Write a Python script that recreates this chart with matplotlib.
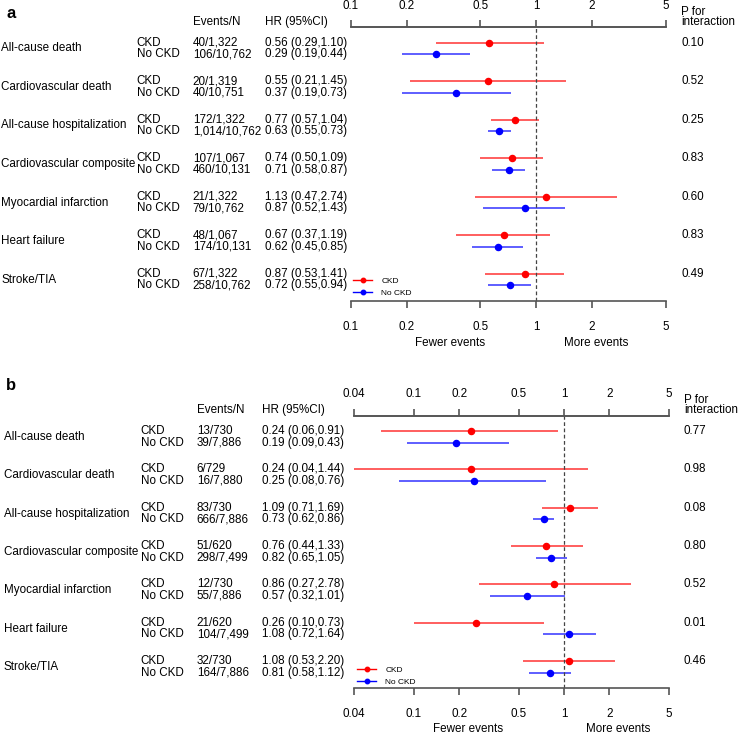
import matplotlib
matplotlib.use("Agg")
import matplotlib.pyplot as plt
import matplotlib.transforms as mtransforms
from matplotlib.lines import Line2D

plt.rcParams['font.family'] = ['Liberation Sans', 'DejaVu Sans']

categories = ["All-cause death", "Cardiovascular death", "All-cause hospitalization",
              "Cardiovascular composite", "Myocardial infarction", "Heart failure", "Stroke/TIA"]

# panel a
a_ev_ckd = ["40/1,322", "20/1,319", "172/1,322", "107/1,067", "21/1,322", "48/1,067", "67/1,322"]
a_ev_no = ["106/10,762", "40/10,751", "1,014/10,762", "460/10,131", "79/10,762", "174/10,131", "258/10,762"]
a_hr_ckd = [0.56, 0.55, 0.77, 0.74, 1.13, 0.67, 0.87]
a_lo_ckd = [0.29, 0.21, 0.57, 0.50, 0.47, 0.37, 0.53]
a_hi_ckd = [1.10, 1.45, 1.04, 1.09, 2.74, 1.19, 1.41]
a_hr_no = [0.29, 0.37, 0.63, 0.71, 0.87, 0.62, 0.72]
a_lo_no = [0.19, 0.19, 0.55, 0.58, 0.52, 0.45, 0.55]
a_hi_no = [0.44, 0.73, 0.73, 0.87, 1.43, 0.85, 0.94]
a_p = ["0.10", "0.52", "0.25", "0.83", "0.60", "0.83", "0.49"]
a_ticks = [0.1, 0.2, 0.5, 1, 2, 5]
a_ticklabels = ["0.1", "0.2", "0.5", "1", "2", "5"]

# panel b
b_ev_ckd = ["13/730", "6/729", "83/730", "51/620", "12/730", "21/620", "32/730"]
b_ev_no = ["39/7,886", "16/7,880", "666/7,886", "298/7,499", "55/7,886", "104/7,499", "164/7,886"]
b_hr_ckd = [0.24, 0.24, 1.09, 0.76, 0.86, 0.26, 1.08]
b_lo_ckd = [0.06, 0.04, 0.71, 0.44, 0.27, 0.10, 0.53]
b_hi_ckd = [0.91, 1.44, 1.69, 1.33, 2.78, 0.73, 2.20]
b_hr_no = [0.19, 0.25, 0.73, 0.82, 0.57, 1.08, 0.81]
b_lo_no = [0.09, 0.08, 0.62, 0.65, 0.32, 0.72, 0.58]
b_hi_no = [0.43, 0.76, 0.86, 1.05, 1.01, 1.64, 1.12]
b_p = ["0.77", "0.98", "0.08", "0.80", "0.52", "0.01", "0.46"]
b_ticks = [0.04, 0.1, 0.2, 0.5, 1, 2, 5]
b_ticklabels = ["0.04", "0.1", "0.2", "0.5", "1", "2", "5"]

W = 738.0
GAP = 3.35
AXCOL = '#555555'
FS = 8.4


def fx(px):
    return px / W


def fy(px):
    return 1 - px / W


fig = plt.figure(figsize=(7.38, 7.38), dpi=100)


def forest(rect, xlim, ticks, ticklabels, hr_c, lo_c, hi_c, hr_n, lo_n, hi_n,
           ev_c, ev_n, pvals, cols, hdr_y, letter, letter_y, fewer_x, more_x, leg_xy):
    ax = fig.add_axes(rect)
    n = len(categories)
    y_c = [i * GAP for i in range(n)]
    y_n = [i * GAP + 1 for i in range(n)]

    for y, hr, lo, hi in zip(y_c, hr_c, lo_c, hi_c):
        ax.plot([lo, hi], [y, y], color='red', lw=1.1, alpha=0.8, solid_capstyle='butt')
    for y, hr, lo, hi in zip(y_n, hr_n, lo_n, hi_n):
        ax.plot([lo, hi], [y, y], color='blue', lw=1.1, alpha=0.8, solid_capstyle='butt')
    ax.plot(hr_c, y_c, 'o', color='red', ms=4.4, ls='none')
    ax.plot(hr_n, y_n, 'o', color='blue', ms=4.4, ls='none')
    ax.axvline(1, color='#444444', lw=0.9, ls=(0, (3, 2)))

    ax.set_xscale('log')
    ax.set_xlim(*xlim)
    ax.set_ylim(y_n[-1] + 1.35, -1.35)
    ax.set_yticks([])
    ax.set_xticks(ticks)
    ax.set_xticklabels(ticklabels)
    ax.minorticks_off()
    ax.tick_params(axis='x', which='major', direction='out', length=5, width=1.2,
                   color=AXCOL, labelsize=FS, pad=9.5)
    for s in ['left', 'right']:
        ax.spines[s].set_visible(False)
    for s in ['top', 'bottom']:
        ax.spines[s].set_color(AXCOL)
        ax.spines[s].set_linewidth(1.2)

    top = ax.secondary_xaxis('top')
    top.set_xticks(ticks)
    top.set_xticklabels(ticklabels)
    top.minorticks_off()
    top.tick_params(axis='x', which='major', direction='out', length=5, width=1.2,
                    color=AXCOL, labelsize=FS, pad=6)
    top.spines['top'].set_color(AXCOL)
    top.spines['top'].set_linewidth(1.2)

    tr = mtransforms.blended_transform_factory(fig.transFigure, ax.transData)
    cx, gx, ex, hx, px = cols
    for i, cat in enumerate(categories):
        ax.text(fx(cx), (y_c[i] + y_n[i]) / 2, cat, transform=tr, fontsize=FS, va='center', ha='left')
        ax.text(fx(gx), y_c[i], "CKD", transform=tr, fontsize=FS, va='center', ha='left')
        ax.text(fx(gx), y_n[i], "No CKD", transform=tr, fontsize=FS, va='center', ha='left')
        ax.text(fx(ex), y_c[i], ev_c[i], transform=tr, fontsize=FS, va='center', ha='left')
        ax.text(fx(ex), y_n[i], ev_n[i], transform=tr, fontsize=FS, va='center', ha='left')
        ax.text(fx(hx), y_c[i], "%.2f (%.2f,%.2f)" % (hr_c[i], lo_c[i], hi_c[i]),
                transform=tr, fontsize=FS, va='center', ha='left')
        ax.text(fx(hx), y_n[i], "%.2f (%.2f,%.2f)" % (hr_n[i], lo_n[i], hi_n[i]),
                transform=tr, fontsize=FS, va='center', ha='left')
        ax.text(fx(px), y_c[i], pvals[i], transform=tr, fontsize=FS, va='center', ha='left')

    fig.text(fx(ex), fy(hdr_y), "Events/N", fontsize=FS, va='center', ha='left')
    fig.text(fx(hx), fy(hdr_y), "HR (95%CI)", fontsize=FS, va='center', ha='left')
    fig.text(fx(px), fy(hdr_y - 4.7), "P for\ninteraction", fontsize=FS, va='center', ha='left',
             linespacing=0.82)
    fig.text(fx(6), fy(letter_y), letter, fontsize=12, fontweight='bold', va='center', ha='left')

    ax.text(fewer_x, -0.152, "Fewer events", transform=ax.transAxes, fontsize=FS, ha='center', va='center')
    ax.text(more_x, -0.152, "More events", transform=ax.transAxes, fontsize=FS, ha='center', va='center')

    handles = [Line2D([], [], color='red', marker='o', ms=3.2, lw=1.0),
               Line2D([], [], color='blue', marker='o', ms=3.2, lw=1.0)]
    ax.legend(handles, ["CKD", "No CKD"], loc='upper left', bbox_to_anchor=(fx(leg_xy[0]), fy(leg_xy[1])),
              bbox_transform=fig.transFigure, frameon=False, fontsize=6, handlelength=2.3,
              handletextpad=1.1, labelspacing=0.45, borderpad=0, borderaxespad=0)
    return ax


forest([fx(350.7), fy(301), 315 / W, 274 / W], (0.1, 5), a_ticks, a_ticklabels,
       a_hr_ckd, a_lo_ckd, a_hi_ckd, a_hr_no, a_lo_no, a_hi_no, a_ev_ckd, a_ev_no, a_p,
       (1, 136.7, 192.7, 265, 681), 22, "a", 13, 0.315, 0.779, (353, 277.5))

forest([fx(354.3), fy(688), 314.7 / W, 272.3 / W], (0.04, 5), b_ticks, b_ticklabels,
       b_hr_ckd, b_lo_ckd, b_hi_ckd, b_hr_no, b_lo_no, b_hi_no, b_ev_ckd, b_ev_no, b_p,
       (4, 140.7, 196.7, 261.7, 684), 410, "b", 385, 0.361, 0.838, (357, 666.5))

fig.savefig("out.png", dpi=100)
